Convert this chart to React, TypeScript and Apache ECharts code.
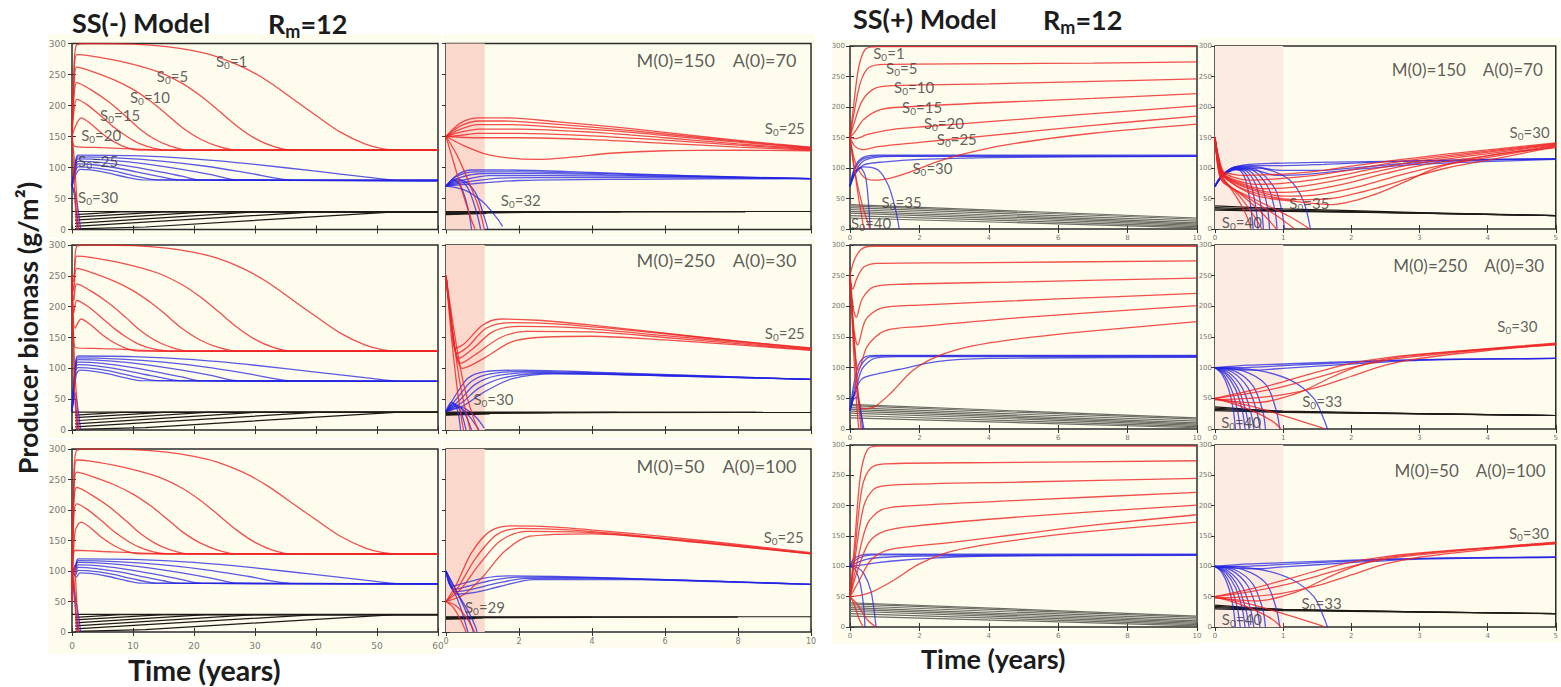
import React, { useEffect, useRef } from 'react';
import * as echarts from 'echarts';

type Pt = [number, number];
type Curve = Pt[];

// ---------------- common values ----------------
const m0Values = [150, 250, 50];
const a0Values = [70, 30, 100];
const noteTexts = ['M(0)=150    A(0)=70', 'M(0)=250    A(0)=30', 'M(0)=50    A(0)=100'];
const ssmLongS0 = ['1', '5', '10', '15', '20', '25', '30'];
const sspLongS0 = ['1', '5', '10', '15', '20', '25', '30', '35', '40'];
const ssmShortS0Low = ['32', '30', '29'];
const sspShortS0Low = ['35', '33', '33'];

// ---------------- SS(-) long term (0-60 y), shared by the 3 rows (start value prepended) ----------------
const ssmLongRed: Curve[] = [
  [[0.3, 250], [0.8, 298], [3, 300], [10, 299], [15.5, 295], [20, 288], [23.7, 279], [28, 262], [32, 240], [36, 212], [40, 184], [44, 157], [48, 138], [51, 130], [54, 128], [60, 128]],
  [[0.3, 240], [0.8, 282], [3, 280], [8, 271], [13.9, 255], [18, 236], [21, 216], [24, 192], [27, 167], [30, 147], [33, 134], [36, 128], [60, 128]],
  [[0.3, 225], [0.8, 262], [3, 256], [7, 241], [10, 226], [13, 206], [15.5, 186], [18, 165], [21, 146], [24, 134], [27, 128], [60, 128]],
  [[0.3, 210], [0.8, 237], [3, 226], [6, 206], [9, 181], [11, 163], [13.5, 146], [16, 135], [19, 128], [60, 128]],
  [[0.3, 190], [0.8, 210], [2.5, 201], [5, 181], [7, 164], [9, 150], [11, 139], [13.5, 131], [16, 128], [60, 128]],
  [[0.5, 165], [1.5, 180], [3, 171], [5, 154], [7, 141], [9, 132], [11, 128], [60, 128]],
  [[0.5, 134], [5, 132], [10, 130], [15, 128], [60, 128]],
];
const ssmLongRedExt: Curve[] = [
  [[0.3, 90], [0.6, 30], [0.8, 0]],
  [[0.4, 110], [0.8, 45], [1.1, 0]],
];
const ssmLongBlue: Curve[] = [
  [[0.6, 110], [1, 120], [10, 119], [20, 114], [30, 105], [40, 94], [48, 85], [54, 79], [60, 79]],
  [[0.6, 108], [1, 117], [8, 115], [15, 110], [22, 102], [29, 91], [35.7, 80], [60, 79]],
  [[0.6, 105], [1, 114], [6, 112], [12, 106], [18, 97], [23, 88], [27, 80], [60, 79]],
  [[0.6, 102], [1, 110], [5, 108], [10, 101], [15, 92], [18, 86], [21, 80], [60, 79]],
  [[0.6, 98], [1, 106], [4, 104], [8, 98], [12, 90], [15, 84], [17.5, 80], [60, 79]],
  [[0.6, 94], [1, 101], [4, 99], [7, 94], [10, 87], [14, 80], [60, 79]],
  [[0.7, 90], [1.3, 97], [3, 96], [6, 91], [9, 84], [11.5, 80], [60, 79]],
];
const ssmLongBlueExt: Curve[] = [
  [[0.4, 55], [0.8, 20], [1, 0]],
  [[0.5, 60], [1.1, 25], [1.4, 0]],
];
const ssmLongBlack: Curve[] = [
  [[0, 29], [60, 29]],
  [[0.5, 24], [8, 28.5], [60, 28.5]],
  [[0.5, 20], [15, 28.5], [60, 28.5]],
  [[0.5, 15], [22, 28.5], [60, 28.5]],
  [[0.5, 10], [30, 28.5], [60, 28.5]],
  [[0.5, 5], [40, 28.5], [60, 28.5]],
  [[0.5, 1], [12, 4], [53, 28.5], [60, 28.5]],
];

// ---------------- SS(-) short term (0-10 y) ----------------
const ssmShort1Red: Curve[] = [
  [[0, 150], [0.4, 172], [0.9, 180], [1.6, 180], [3, 174], [5, 163], [7, 150], [9, 138], [10, 133]],
  [[0, 150], [0.4, 167], [0.9, 175], [1.6, 175], [3, 170], [5, 160], [7, 148], [9, 137], [10, 132]],
  [[0, 150], [0.4, 162], [0.9, 169], [1.8, 169], [3, 165], [5, 157], [7, 146], [9, 136], [10, 131]],
  [[0, 150], [0.4, 157], [0.9, 162], [2, 162], [4, 157], [6, 148], [8, 138], [10, 130]],
  [[0, 150], [0.4, 152], [0.9, 155], [2, 155], [4, 151], [6, 144], [8, 136], [10, 129]],
  [[0, 150], [0.9, 148], [2, 148], [4, 145], [6, 139], [8, 133], [10, 128]],
  [[0, 150], [0.5, 135], [1.2, 120], [2.5, 113], [3.5, 117], [4.5, 123], [6, 127], [8, 128], [10, 127]],
  [[0, 150], [0.2, 110], [0.45, 60], [0.7, 15], [0.8, 0]],
  [[0, 150], [0.3, 120], [0.6, 80], [0.9, 35], [1.05, 0]],
];
const ssmShort1Blue: Curve[] = [
  [[0, 70], [0.3, 88], [0.7, 96], [1.5, 96], [4, 92], [7, 86], [10, 82]],
  [[0, 70], [0.3, 86], [0.8, 93], [2, 93], [5, 89], [10, 82]],
  [[0, 70], [0.4, 84], [1, 90], [2.5, 90], [6, 86], [10, 82]],
  [[0, 70], [0.5, 80], [1.2, 87], [3, 87], [10, 82]],
  [[0, 70], [0.6, 77], [1.5, 83], [4, 84], [10, 82]],
  [[0, 70], [0.8, 74], [2, 79], [5, 81], [10, 82]],
  [[0, 70], [0.2, 80], [0.4, 70], [0.6, 35], [0.7, 0]],
  [[0, 70], [0.3, 82], [0.6, 67], [0.85, 25], [0.95, 0]],
  [[0, 70], [0.4, 80], [0.8, 60], [1.05, 20], [1.15, 0]],
  [[0, 70], [0.5, 64], [1.0, 45], [1.4, 18], [1.55, 5]],
];
const ssmShort1Black: Curve[] = [
  [[0, 29], [10, 29]],
  [[0, 28], [8.2, 28.5]],
  [[0, 27], [4.8, 28.2]],
  [[0, 26], [2.7, 27.8]],
  [[0, 25], [1.1, 27]],
  [[0, 24], [1.1, 26]],
];
const ssmShort2Red: Curve[] = [
  [[0, 250], [0.15, 170], [0.25, 132], [0.5, 140], [1, 170], [1.5, 180], [2.5, 178], [4, 170], [6, 157], [8, 144], [10, 133]],
  [[0, 250], [0.18, 160], [0.3, 124], [0.6, 135], [1.1, 165], [1.8, 174], [3, 172], [5, 162], [7, 150], [10, 132]],
  [[0, 250], [0.2, 150], [0.35, 116], [0.7, 130], [1.3, 160], [2, 168], [3.5, 166], [6, 153], [8, 142], [10, 131]],
  [[0, 250], [0.22, 140], [0.4, 108], [0.8, 122], [1.5, 150], [2.2, 160], [4, 159], [6, 150], [8, 140], [10, 130]],
  [[0, 250], [0.25, 130], [0.45, 100], [1, 115], [1.8, 143], [2.5, 150], [4, 152], [6, 146], [8, 138], [10, 129]],
  [[0, 250], [0.15, 150], [0.3, 70], [0.42, 20], [0.48, 0]],
  [[0, 250], [0.2, 150], [0.4, 70], [0.58, 20], [0.66, 0]],
  [[0, 250], [0.25, 150], [0.5, 70], [0.75, 20], [0.88, 0]],
];
const ssmShort2Blue: Curve[] = [
  [[0, 30], [0.3, 60], [0.6, 84], [1, 94], [2, 97], [4, 94], [7, 88], [10, 82]],
  [[0, 30], [0.35, 55], [0.7, 79], [1.2, 91], [2.2, 95], [5, 91], [10, 82]],
  [[0, 30], [0.4, 50], [0.8, 74], [1.4, 88], [2.5, 93], [5, 90], [10, 82]],
  [[0, 30], [0.45, 45], [0.9, 68], [1.6, 85], [2.8, 92], [6, 88], [10, 82]],
  [[0, 30], [0.5, 40], [1, 60], [1.8, 83], [3, 91], [6, 88], [10, 82]],
  [[0, 30], [0.15, 45], [0.3, 35], [0.4, 0]],
  [[0, 30], [0.2, 43], [0.4, 30], [0.55, 0]],
  [[0, 30], [0.25, 41], [0.5, 28], [0.7, 0]],
  [[0, 30], [0.3, 39], [0.6, 25], [0.85, 5], [0.9, 0]],
  [[0, 30], [0.4, 37], [0.8, 22], [1.05, 3]],
];
const ssmShort2Black: Curve[] = [
  [[0, 29], [10, 28.5]],
  [[0, 28], [8.5, 28.5]],
  [[0, 27], [4.7, 28.5]],
  [[0, 26], [2.9, 28]],
  [[0, 25], [1.2, 27]],
  [[0, 24], [1.2, 26]],
];
const ssmShort3Red: Curve[] = [
  [[0, 50], [0.3, 80], [0.7, 130], [1.2, 165], [1.8, 174], [3, 172], [5, 162], [7, 150], [10, 130]],
  [[0, 50], [0.35, 75], [0.8, 120], [1.4, 160], [2, 170], [3.5, 167], [6, 154], [8, 142], [10, 129]],
  [[0, 50], [0.4, 70], [0.9, 110], [1.5, 150], [2.2, 165], [4, 163], [7, 147], [10, 128]],
  [[0, 50], [0.5, 62], [1, 90], [1.6, 132], [2.3, 157], [4, 161], [7, 146], [10, 128]],
  [[0, 50], [0.2, 40], [0.4, 20], [0.55, 0]],
  [[0, 50], [0.3, 42], [0.6, 20], [0.78, 0]],
];
const ssmShort3Blue: Curve[] = [
  [[0, 100], [0.15, 75], [0.5, 80], [1, 88], [1.7, 92], [3, 91], [6, 86], [10, 78]],
  [[0, 100], [0.2, 70], [0.6, 75], [1.2, 84], [2, 90], [4, 89], [7, 84], [10, 78]],
  [[0, 100], [0.25, 66], [0.7, 70], [1.4, 80], [2.2, 88], [4, 88], [7, 83], [10, 78]],
  [[0, 100], [0.3, 62], [0.8, 65], [1.5, 75], [2.4, 86], [5, 86], [10, 78]],
  [[0, 100], [0.2, 70], [0.4, 40], [0.55, 10], [0.6, 0]],
  [[0, 100], [0.3, 65], [0.5, 40], [0.7, 10], [0.75, 0]],
  [[0, 100], [0.35, 60], [0.6, 35], [0.8, 10], [0.85, 0]],
];
const ssmShort3Black: Curve[] = [
  [[0, 25], [10, 25]],
  [[0, 24], [8, 24.5]],
  [[0, 23], [4, 24]],
  [[0, 22], [1, 23]],
  [[0, 21], [0.8, 22]],
];

// ---------------- SS(+) long term (0-10 y) ----------------
const ssp1LongRed: Curve[] = [
  [[0, 150], [0.1, 200], [0.25, 265], [0.45, 295], [0.8, 299], [10, 299]],
  [[0, 150], [0.1, 185], [0.3, 240], [0.55, 265], [1, 270], [4, 271], [7, 272], [10, 274]],
  [[0, 150], [0.1, 170], [0.35, 210], [0.7, 230], [1.2, 235], [4, 238], [7, 242], [10, 246]],
  [[0, 150], [0.15, 160], [0.4, 180], [0.9, 196], [1.6, 200], [4, 207], [7, 214], [10, 222]],
  [[0, 150], [0.15, 148], [0.5, 155], [1.2, 163], [2.2, 168], [4, 176], [7, 189], [10, 202]],
  [[0, 150], [0.15, 135], [0.35, 130], [0.8, 135], [2, 142], [4, 153], [7, 170], [10, 185]],
  [[0, 150], [0.15, 110], [0.4, 85], [0.7, 80], [1.2, 84], [1.8, 95], [2.5, 110], [3.2, 122], [4.5, 138], [7, 157], [10, 172]],
  [[0, 150], [0.1, 110], [0.25, 50], [0.4, 0]],
  [[0, 150], [0.12, 100], [0.35, 40], [0.58, 0]],
];
const ssp1LongBlue: Curve[] = [
  [[0, 70], [0.1, 95], [0.25, 112], [0.45, 119], [0.8, 121], [10, 121]],
  [[0, 70], [0.1, 93], [0.3, 112], [0.55, 118], [1, 120], [10, 120]],
  [[0, 70], [0.12, 90], [0.35, 110], [0.7, 117], [1.3, 119], [10, 119]],
  [[0, 70], [0.15, 90], [0.4, 105], [1, 110], [2, 114], [4, 117], [10, 119]],
  [[0, 70], [0.15, 92], [0.3, 100], [0.45, 85], [0.55, 30], [0.58, 0]],
  [[0, 70], [0.15, 95], [0.4, 102], [0.8, 97], [1.1, 72], [1.3, 35], [1.42, 0]],
];
const ssp2LongRed: Curve[] = [
  [[0, 250], [0.1, 272], [0.3, 292], [0.6, 298], [10, 298]],
  [[0, 250], [0.08, 228], [0.2, 246], [0.4, 264], [0.8, 270], [3, 271], [10, 274]],
  [[0, 250], [0.1, 195], [0.18, 182], [0.35, 212], [0.7, 232], [1.5, 236], [5, 240], [10, 246]],
  [[0, 250], [0.12, 160], [0.22, 137], [0.45, 178], [0.9, 197], [2, 202], [6, 212], [10, 221]],
  [[0, 250], [0.14, 130], [0.25, 97], [0.5, 135], [1, 160], [2, 167], [5, 182], [10, 201]],
  [[0, 250], [0.18, 100], [0.35, 33], [0.7, 36], [1.2, 60], [1.8, 95], [2.5, 118], [3.5, 135], [5, 148], [7, 160], [10, 175]],
  [[0, 250], [0.1, 130], [0.18, 50], [0.25, 0]],
  [[0, 250], [0.12, 140], [0.22, 60], [0.32, 0]],
];
const ssp2LongBlue: Curve[] = [
  [[0, 30], [0.1, 70], [0.25, 105], [0.45, 118], [0.8, 120], [10, 120]],
  [[0, 30], [0.12, 65], [0.3, 102], [0.55, 117], [1, 119], [10, 119]],
  [[0, 30], [0.15, 60], [0.35, 98], [0.7, 115], [1.3, 118], [10, 118]],
  [[0, 30], [0.15, 62], [0.35, 82], [0.8, 90], [1.4, 97], [2.5, 110], [4, 115], [10, 117]],
  [[0, 30], [0.08, 50], [0.18, 62], [0.28, 40], [0.36, 0]],
  [[0, 30], [0.1, 48], [0.2, 52], [0.32, 25], [0.4, 0]],
];
const ssp3LongRed: Curve[] = [
  [[0, 50], [0.15, 150], [0.3, 250], [0.5, 292], [0.8, 298], [10, 298]],
  [[0, 50], [0.15, 130], [0.35, 230], [0.6, 262], [1, 269], [4, 271], [10, 274]],
  [[0, 50], [0.15, 115], [0.4, 200], [0.7, 228], [1.2, 234], [5, 239], [10, 245]],
  [[0, 50], [0.2, 105], [0.5, 170], [0.9, 193], [1.5, 199], [5, 209], [10, 222]],
  [[0, 50], [0.2, 90], [0.55, 140], [1, 158], [1.8, 166], [5, 182], [10, 201]],
  [[0, 50], [0.25, 75], [0.6, 110], [1.1, 127], [2, 134], [3, 140], [5, 154], [7, 168], [10, 185]],
  [[0, 50], [0.3, 52], [0.6, 57], [1.2, 75], [2, 104], [3, 126], [5, 145], [7, 158], [10, 173]],
  [[0, 50], [0.1, 40], [0.25, 15], [0.38, 0]],
  [[0, 50], [0.2, 38], [0.5, 12], [0.75, 0]],
];
const ssp3LongBlue: Curve[] = [
  [[0, 100], [0.1, 112], [0.3, 118], [0.6, 120], [10, 120]],
  [[0, 100], [0.15, 110], [0.4, 117], [0.8, 119], [10, 119]],
  [[0, 100], [0.2, 106], [0.5, 112], [1, 115], [2, 117], [10, 119]],
  [[0, 100], [0.3, 102], [0.8, 106], [1.5, 110], [2.5, 114], [4, 117], [10, 118]],
  [[0, 100], [0.15, 95], [0.3, 70], [0.4, 30], [0.43, 0]],
  [[0, 100], [0.2, 98], [0.4, 88], [0.6, 60], [0.7, 25], [0.75, 0]],
];
const sspLongGray: Curve[] = [
  [[0, 40], [10, 18]],
  [[0, 38], [10, 16]],
  [[0, 35], [10, 13]],
  [[0, 32], [10, 10]],
  [[0, 29], [10, 8]],
  [[0, 26], [10, 6]],
  [[0, 22], [10, 4]],
  [[0, 18], [10, 2]],
];

// ---------------- SS(+) short term (0-5 y) ----------------
const ssp1ShortRed: Curve[] = [
  [[0, 150], [0.05, 120], [0.12, 95], [0.25, 90], [0.4, 88], [1, 90], [1.5, 95], [2, 103], [2.6, 112], [3.5, 124], [5, 141]],
  [[0, 150], [0.05, 118], [0.12, 93], [0.3, 84], [0.5, 80], [1, 83], [1.6, 90], [2.2, 101], [2.8, 112], [3.7, 124], [5, 140]],
  [[0, 150], [0.05, 116], [0.12, 91], [0.3, 80], [0.6, 73], [1.1, 76], [1.7, 85], [2.3, 98], [2.9, 110], [3.8, 123], [5, 139]],
  [[0, 150], [0.05, 114], [0.12, 90], [0.35, 76], [0.7, 66], [1.2, 69], [1.8, 80], [2.4, 95], [3, 108], [3.9, 122], [5, 138]],
  [[0, 150], [0.05, 112], [0.12, 89], [0.4, 72], [0.85, 60], [1.3, 62], [1.9, 74], [2.5, 91], [3.1, 106], [4, 120], [5, 137]],
  [[0, 150], [0.05, 110], [0.12, 88], [0.45, 68], [1, 54], [1.5, 56], [2.1, 69], [2.7, 88], [3.3, 104], [4.1, 119], [5, 136]],
  [[0, 150], [0.05, 108], [0.12, 87], [0.5, 62], [1.2, 48], [1.7, 50], [2.3, 65], [2.9, 85], [3.4, 100], [4.2, 117], [5, 135]],
  [[0, 150], [0.05, 106], [0.12, 86], [0.6, 55], [1.2, 45], [1.7, 40], [2.3, 55], [2.8, 78], [3.2, 98], [3.6, 111], [4.2, 124], [5, 133]],
  [[0, 150], [0.05, 104], [0.12, 84], [0.3, 55], [0.45, 25], [0.53, 0]],
  [[0, 150], [0.05, 102], [0.12, 82], [0.35, 55], [0.55, 25], [0.69, 0]],
  [[0, 150], [0.05, 100], [0.12, 80], [0.4, 55], [0.7, 25], [0.9, 0]],
  [[0, 150], [0.05, 98], [0.12, 78], [0.5, 50], [0.9, 22], [1.17, 0]],
  [[0, 150], [0.05, 96], [0.12, 76], [0.6, 48], [1.1, 20], [1.39, 0]],
];
const ssp1ShortBlue: Curve[] = [
  [[0, 70], [0.1, 88], [0.25, 100], [0.5, 106], [1, 108], [2, 110], [3, 112], [4, 114], [5, 115]],
  [[0, 70], [0.1, 87], [0.25, 99], [0.5, 104], [1, 104], [1.6, 106], [2.5, 110], [3.5, 113], [5, 115]],
  [[0, 70], [0.1, 86], [0.3, 98], [0.6, 100], [1, 96], [1.5, 96], [2.2, 102], [3, 109], [4, 113], [5, 115]],
  [[0, 70], [0.1, 86], [0.3, 97], [0.55, 97], [0.9, 88], [1.3, 89], [2, 97], [3, 106], [5, 114]],
  [[0, 70], [0.1, 86], [0.25, 98], [0.35, 97], [0.45, 80], [0.52, 40], [0.56, 0]],
  [[0, 70], [0.1, 86], [0.25, 98], [0.4, 96], [0.52, 75], [0.6, 35], [0.63, 0]],
  [[0, 70], [0.1, 86], [0.25, 99], [0.45, 96], [0.6, 72], [0.68, 35], [0.71, 0]],
  [[0, 70], [0.1, 86], [0.3, 100], [0.5, 96], [0.68, 70], [0.77, 35], [0.8, 0]],
  [[0, 70], [0.1, 87], [0.3, 101], [0.55, 97], [0.78, 68], [0.88, 30], [0.91, 0]],
  [[0, 70], [0.1, 87], [0.3, 102], [0.6, 98], [0.88, 66], [0.98, 30], [1.02, 0]],
  [[0, 70], [0.1, 88], [0.35, 103], [0.7, 100], [1.1, 80], [1.3, 45], [1.4, 0]],
];
const ssp1ShortBlack: Curve[] = [
  [[0, 38], [1, 33], [2, 30], [3, 27], [4, 24.5], [5, 22]],
  [[0, 35], [1, 31], [2, 28.5], [3, 26], [4, 24], [5, 22]],
  [[0, 33], [0.5, 31], [1.5, 29], [3, 26], [5, 22]],
  [[0, 31], [1, 29], [2.5, 27], [5, 22]],
];
const ssp23ShortRed: Curve[] = [
  [[0, 50], [0.5, 62], [1, 77], [1.5, 93], [2, 107], [2.5, 116], [3, 122], [4, 131], [5, 140]],
  [[0, 50], [0.5, 58], [1, 69], [1.5, 84], [2, 100], [2.5, 112], [3, 119], [4, 130], [5, 139]],
  [[0, 48], [0.5, 50], [1, 56], [1.5, 68], [2, 86], [2.5, 104], [3, 115], [4, 128], [5, 138]],
  [[0, 48], [0.6, 43], [1.2, 58], [1.7, 84], [2.1, 102], [2.5, 114], [3.5, 126], [5, 137]],
  [[0, 50], [0.3, 40], [0.6, 27], [0.85, 12], [0.97, 0]],
  [[0, 50], [0.5, 38], [1, 22], [1.4, 8], [1.62, 0]],
];
const ssp23ShortBlue: Curve[] = [
  [[0, 100], [0.5, 104], [1, 106], [2, 110], [3, 113], [4, 114], [5, 115]],
  [[0, 100], [0.4, 100], [0.8, 102], [1.5, 106], [2.5, 111], [3.5, 114], [5, 115]],
  [[0, 100], [0.3, 97], [0.6, 96], [1, 99], [2, 106], [3, 112], [5, 115]],
  [[0, 100], [0.1, 90], [0.2, 65], [0.27, 30], [0.3, 0]],
  [[0, 100], [0.12, 90], [0.24, 65], [0.33, 30], [0.37, 0]],
  [[0, 100], [0.15, 90], [0.3, 65], [0.4, 30], [0.44, 0]],
  [[0, 100], [0.17, 91], [0.34, 66], [0.45, 30], [0.5, 0]],
  [[0, 100], [0.2, 92], [0.4, 67], [0.52, 30], [0.57, 0]],
  [[0, 100], [0.25, 93], [0.48, 68], [0.61, 30], [0.66, 0]],
  [[0, 100], [0.3, 94], [0.56, 70], [0.7, 30], [0.74, 0]],
  [[0, 100], [0.4, 95], [0.75, 72], [0.9, 30], [0.95, 0]],
  [[0, 100], [0.6, 96], [1.1, 80], [1.45, 50], [1.6, 15], [1.65, 0]],
];
const ssp23ShortBlack: Curve[] = [
  [[0, 36], [0.5, 32], [1, 29], [2, 27], [3, 25], [5, 22]],
  [[0, 34], [0.5, 31], [1, 28.5], [2, 26.5], [5, 22]],
  [[0, 32], [1, 28], [5, 22]],
  [[0, 30], [1, 27], [5, 22]],
];

// ---------------- styling / layout ----------------
const RED = 'rgba(238,35,35,0.8)';
const BLUE = 'rgba(35,35,225,0.75)';
const BLACK = '#1e1a16';
const GRAY = '#6c6c64';
const BG = '#FEFCEC';
const FONT = 'Lato, "Open Sans", sans-serif';

interface LabelDef { text: string; x: number; y: number; align: 'left' | 'right'; kind: 's0' | 'note'; size: number }
interface PanelDef {
  left: number; top: number; width: number; height: number;
  xMax: number; xInterval: number; yLabels: boolean; xLabels: boolean;
  tickFont: number; xMargin: number; yMargin: number;
  shade: string | null; shadeEnd: number;
  red: Curve[]; blue: Curve[]; black: Curve[]; blackColor: string;
  labels: LabelDef[];
}

const rowsM = [{ top: 43.5, height: 186 }, { top: 245, height: 185 }, { top: 449, height: 183 }];
const rowsP = [{ top: 46, height: 183 }, { top: 245, height: 184 }, { top: 445, height: 182 }];

const ssmLongLabelPos: [number, number][] = [[23.6, 272], [13.9, 248], [9.5, 214], [4.6, 185], [1.5, 152], [1, 110], [1, 52]];
const ssmShortLowPos: [number, number][] = [[1.5, 47], [0.75, 51], [0.52, 41]];
const ssmShortHighPos: [number, number][] = [[9.83, 163], [9.83, 158], [9.8, 155]];
const ssmNotePos: [number, number][] = [[9.6, 274], [9.6, 276], [9.6, 272]];
const sspLongLabelPos: [number, number][] = [[0.67, 289], [1.04, 264], [1.27, 233], [1.5, 200], [2.13, 174], [2.5, 148], [1.8, 100], [0.91, 45], [0.03, 10]];
const sspShortHighPos: [number, number][] = [[4.91, 159], [4.73, 168], [4.9, 155]];
const sspShortLowPos: [number, number][] = [[1.09, 42], [1.28, 46], [1.27, 40]];
const sspShort40Pos: [number, number][] = [[0.1, 11], [0.09, 11], [0.1, 13]];
const sspNotePos: [number, number][] = [[4.81, 262], [4.83, 266], [4.85, 258]];

const ssmShortRed = [ssmShort1Red, ssmShort2Red, ssmShort3Red];
const ssmShortBlue = [ssmShort1Blue, ssmShort2Blue, ssmShort3Blue];
const ssmShortBlack = [ssmShort1Black, ssmShort2Black, ssmShort3Black];
const sspLongRed = [ssp1LongRed, ssp2LongRed, ssp3LongRed];
const sspLongBlue = [ssp1LongBlue, ssp2LongBlue, ssp3LongBlue];
const sspShortRed = [ssp1ShortRed, ssp23ShortRed, ssp23ShortRed];
const sspShortBlue = [ssp1ShortBlue, ssp23ShortBlue, ssp23ShortBlue];
const sspShortBlack = [ssp1ShortBlack, ssp23ShortBlack, ssp23ShortBlack];

function buildPanels(): PanelDef[] {
  const out: PanelDef[] = [];
  for (let r = 0; r < 3; r++) {
    out.push({
      left: 72, width: 366, ...rowsM[r], xMax: 60, xInterval: 10, yLabels: true, xLabels: r === 2,
      tickFont: 9, xMargin: 9, yMargin: 6, shade: null, shadeEnd: 0,
      red: [...ssmLongRed, ...ssmLongRedExt].map(c => [[0, m0Values[r]] as Pt, ...c]),
      blue: [...ssmLongBlue, ...ssmLongBlueExt].map(c => [[0, a0Values[r]] as Pt, ...c]),
      black: ssmLongBlack, blackColor: BLACK,
      labels: r === 0 ? ssmLongS0.map((s, i) => ({ text: s, x: ssmLongLabelPos[i][0], y: ssmLongLabelPos[i][1], align: 'left', kind: 's0', size: 15 })) : [],
    });
    out.push({
      left: 446, width: 365, ...rowsM[r], xMax: 10, xInterval: 2, yLabels: false, xLabels: r === 2,
      tickFont: 8, xMargin: 5, yMargin: 4, shade: '#FAD8CC', shadeEnd: 1.06,
      red: ssmShortRed[r], blue: ssmShortBlue[r], black: ssmShortBlack[r], blackColor: BLACK,
      labels: [
        { text: ssmShortS0Low[r], x: ssmShortLowPos[r][0], y: ssmShortLowPos[r][1], align: 'left', kind: 's0', size: 15 },
        { text: '25', x: ssmShortHighPos[r][0], y: ssmShortHighPos[r][1], align: 'right', kind: 's0', size: 15 },
        { text: noteTexts[r], x: ssmNotePos[r][0], y: ssmNotePos[r][1], align: 'right', kind: 'note', size: 18 },
      ],
    });
  }
  for (let r = 0; r < 3; r++) {
    out.push({
      left: 850, width: 347, ...rowsP[r], xMax: 10, xInterval: 2, yLabels: true, xLabels: true,
      tickFont: 7, xMargin: 5, yMargin: 5, shade: null, shadeEnd: 0,
      red: sspLongRed[r], blue: sspLongBlue[r], black: sspLongGray, blackColor: GRAY,
      labels: r === 0 ? sspLongS0.map((s, i) => ({ text: s, x: sspLongLabelPos[i][0], y: sspLongLabelPos[i][1], align: 'left', kind: 's0', size: 15 })) : [],
    });
    out.push({
      left: 1215, width: 348, ...rowsP[r], xMax: 5, xInterval: 1, yLabels: true, xLabels: true,
      tickFont: 7, xMargin: 5, yMargin: 3, shade: '#FCEBE1', shadeEnd: 1,
      red: sspShortRed[r], blue: sspShortBlue[r], black: sspShortBlack[r], blackColor: BLACK,
      labels: [
        { text: '30', x: sspShortHighPos[r][0], y: sspShortHighPos[r][1], align: 'right', kind: 's0', size: 15 },
        { text: sspShortS0Low[r], x: sspShortLowPos[r][0], y: sspShortLowPos[r][1], align: 'left', kind: 's0', size: 15 },
        { text: '40', x: sspShort40Pos[r][0], y: sspShort40Pos[r][1], align: 'left', kind: 's0', size: 15 },
        { text: noteTexts[r], x: sspNotePos[r][0], y: sspNotePos[r][1], align: 'right', kind: 'note', size: 17 },
      ],
    });
  }
  return out;
}

function buildOption() {
  const panels = buildPanels();
  const grid = panels.map(p => ({
    left: p.left, top: p.top, width: p.width, height: p.height, show: true,
    backgroundColor: BG, borderColor: '#2b2b2b', borderWidth: 1.5,
  }));
  const tick = { show: true, inside: true, length: 4, lineStyle: { color: '#333', width: 1 } };
  const xAxis: any[] = [];
  const yAxis: any[] = [];
  panels.forEach((p, i) => {
    xAxis.push({
      type: 'value', gridIndex: i, min: 0, max: p.xMax, interval: p.xInterval, position: 'bottom',
      axisLine: { show: false }, splitLine: { show: false }, axisTick: tick,
      axisLabel: { show: p.xLabels, fontSize: p.tickFont, color: '#7a7a7a', margin: p.xMargin, fontFamily: 'DejaVu Sans' },
    });
    yAxis.push({
      type: 'value', gridIndex: i, min: 0, max: 300, interval: 50, position: 'left',
      axisLine: { show: false }, splitLine: { show: false }, axisTick: tick,
      axisLabel: { show: p.yLabels, fontSize: p.tickFont, color: '#7a7a7a', margin: p.yMargin, fontFamily: 'DejaVu Sans' },
    });
  });
  panels.forEach((p, i) => {
    xAxis.push({
      type: 'value', gridIndex: i, min: 0, max: p.xMax, interval: p.xInterval, position: 'top',
      axisLine: { show: false }, splitLine: { show: false }, axisTick: tick, axisLabel: { show: false },
    });
    yAxis.push({
      type: 'value', gridIndex: i, min: 0, max: 300, interval: 50, position: 'right',
      axisLine: { show: false }, splitLine: { show: false }, axisTick: tick, axisLabel: { show: false },
    });
  });

  const series: any[] = [];
  const mk = (c: Curve, color: string, gi: number, width: number, smooth: number | boolean, z: number) => ({
    type: 'line', xAxisIndex: gi, yAxisIndex: gi, data: c, symbol: 'none', showSymbol: false,
    smooth, silent: true, z, lineStyle: { color, width }, clip: true,
  });
  const rich = {
    s: { fontSize: 15, lineHeight: 18, color: '#3a3a3a', fontFamily: FONT },
    b: { fontSize: 10, lineHeight: 6, verticalAlign: 'bottom', color: '#3a3a3a', fontFamily: FONT },
  };
  panels.forEach((p, gi) => {
    if (p.shade) {
      series.push({
        type: 'line', xAxisIndex: gi, yAxisIndex: gi, data: [[0, 0]], symbol: 'none', silent: true, z: 1,
        lineStyle: { opacity: 0 },
        markArea: { silent: true, itemStyle: { color: p.shade }, data: [[{ xAxis: 0 }, { xAxis: p.shadeEnd }]] },
      });
    }
    p.black.forEach(c => series.push(mk(c, p.blackColor, gi, 1.2, false, 2)));
    p.blue.forEach(c => series.push(mk(c, BLUE, gi, 1.3, 0.3, 3)));
    p.red.forEach(c => series.push(mk(c, RED, gi, 1.3, 0.3, 4)));
    if (p.labels.length) {
      series.push({
        type: 'scatter', xAxisIndex: gi, yAxisIndex: gi, symbolSize: 1, silent: true, z: 10,
        itemStyle: { color: 'rgba(0,0,0,0)' },
        data: p.labels.map(l => ({
          value: [l.x, l.y],
          label: {
            show: true, position: 'inside', align: l.align, verticalAlign: 'middle',
            formatter: l.kind === 's0' ? `{s|S}{b|0}{s|=${l.text}}` : l.text,
            fontSize: l.size, color: '#333', fontFamily: FONT,
            rich: l.kind === 's0' ? rich : undefined,
          },
        })),
      });
    }
  });

  const titleStyle = { fontFamily: FONT, fontWeight: 'bold', fontSize: 27, color: '#1c1c1c' };
  const rRich = {
    r: { fontFamily: FONT, fontWeight: 'bold', fontSize: 27, lineHeight: 33, color: '#1c1c1c' },
    m: { fontFamily: FONT, fontWeight: 'bold', fontSize: 18, lineHeight: 14, verticalAlign: 'bottom', color: '#1c1c1c' },
  };
  const title = [
    { text: 'SS(-) Model', left: 72, top: 9, padding: 0, textStyle: titleStyle },
    { text: '{r|R}{m|m}{r|=12}', left: 268, top: 7, padding: 0, textStyle: { rich: rRich } },
    { text: 'SS(+) Model', left: 853, top: 5, padding: 0, textStyle: titleStyle },
    { text: '{r|R}{m|m}{r|=12}', left: 1043, top: 3, padding: 0, textStyle: { rich: rRich } },
    { text: 'Time (years)', left: 128, top: 655, padding: 0, textStyle: { ...titleStyle, fontSize: 28.5 } },
    { text: 'Time (years)', left: 921, top: 645, padding: 0, textStyle: titleStyle },
  ];

  const backdrops = [
    [48, 34, 393, 203], [48, 239, 393, 199], [48, 440, 393, 214],
    [443, 34, 372, 203], [443, 239, 372, 199], [443, 440, 372, 208],
    [832, 40, 368, 200], [832, 240, 368, 200], [832, 440, 368, 204],
    [1201, 38, 360, 200], [1201, 238, 360, 200], [1201, 438, 360, 204],
  ];
  const graphic: any[] = backdrops.map(b => ({
    type: 'rect', z: -10, silent: true, shape: { x: b[0], y: b[1], width: b[2], height: b[3] }, style: { fill: BG },
  }));
  graphic.push({
    type: 'text', x: 27, y: 328, rotation: Math.PI / 2, silent: true,
    style: {
      text: 'Producer biomass (g/m²)', font: `bold 27px ${FONT}`, fill: '#1c1c1c',
      textAlign: 'center', textVerticalAlign: 'middle', align: 'center', verticalAlign: 'middle',
    },
  });

  return { animation: false, backgroundColor: '#ffffff', title, grid, xAxis, yAxis, series, graphic };
}

export default function App() {
  const ref = useRef<HTMLDivElement>(null);
  useEffect(() => {
    if (!ref.current) return;
    const chart = echarts.init(ref.current, undefined, { renderer: 'svg' });
    chart.setOption(buildOption() as any);
    return () => chart.dispose();
  }, []);
  return <div ref={ref} style={{ position: 'absolute', left: 0, top: 0, width: 1561, height: 687, background: '#fff' }} />;
}
